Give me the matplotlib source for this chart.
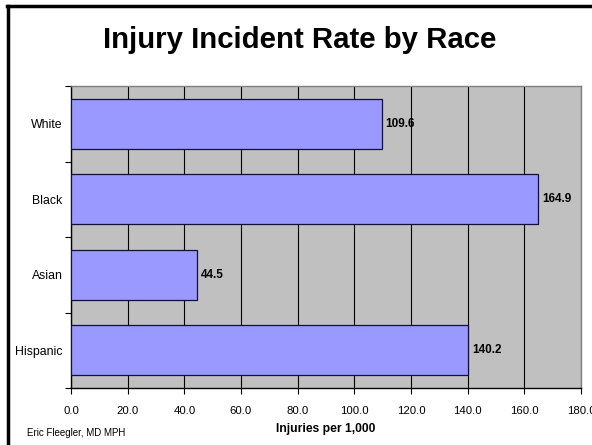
import matplotlib
matplotlib.use("Agg")
import matplotlib.pyplot as plt
from matplotlib.lines import Line2D
import numpy as np

plt.rcParams['font.family'] = ['Liberation Sans', 'DejaVu Sans']

races = ["White", "Black", "Asian", "Hispanic"]
rates = [109.6, 164.9, 44.5, 140.2]
x_ticks = [0, 20, 40, 60, 80, 100, 120, 140, 160, 180]

W, H = 592, 445
fig = plt.figure(figsize=(W / 100, H / 100), dpi=100)

left, right, top, bottom = 71, 581, 86, 388
ax = fig.add_axes([left / W, 1 - bottom / H, (right - left) / W, (bottom - top) / H])
ax.set_facecolor("#C0C0C0")

y = np.arange(len(races))
ax.barh(y, rates, height=0.66, color="#9999FF", edgecolor="#10103a", linewidth=0.9, zorder=3)
for yi, v in zip(y, rates):
    ax.text(v + 1.3, yi, f"{v:.1f}", va="center", ha="left", fontsize=8.5,
            fontweight="bold", zorder=4)

ax.set_xlim(0, 180)
ax.set_ylim(len(races) - 0.5, -0.5)
ax.set_xticks(x_ticks)
ax.set_xticklabels([f"{t:.1f}" for t in x_ticks], fontsize=8.2)
ax.xaxis.grid(True, color="black", linewidth=0.8, zorder=1)
ax.set_axisbelow(True)

ax.set_yticks(y)
ax.set_yticklabels(races, fontsize=8.8)
ax.tick_params(axis="y", length=0, pad=6)
ax.tick_params(axis="x", length=4, width=0.8, direction="out", pad=9)
ax.set_yticks(np.arange(-0.5, len(races)), minor=True)
ax.tick_params(axis="y", which="minor", length=4, width=0.8, direction="out")

for s in ["top", "right"]:
    ax.spines[s].set_color("#808080")
    ax.spines[s].set_linewidth(1.0)
for s in ["left", "bottom"]:
    ax.spines[s].set_color("black")
    ax.spines[s].set_linewidth(1.0)

ax.set_xlabel("Injuries per 1,000", fontsize=8.7, fontweight="bold", labelpad=5)

fig.text(300 / W, 1 - 40 / H, "Injury Incident Rate by Race", ha="center", va="center",
         fontsize=21.2, fontweight="bold")
fig.text(27 / W, 1 - 433 / H, "Eric Fleegler, MD MPH", ha="left", va="center", fontsize=7)

# slide frame along the top and left edges
fig.add_artist(Line2D([8 / W, 8 / W], [0, 1 - 6 / H], transform=fig.transFigure,
                      color="black", linewidth=2.5))
fig.add_artist(Line2D([7 / W, 1], [1 - 6 / H, 1 - 6 / H], transform=fig.transFigure,
                      color="black", linewidth=2.5))

fig.savefig("out.png", dpi=100)
